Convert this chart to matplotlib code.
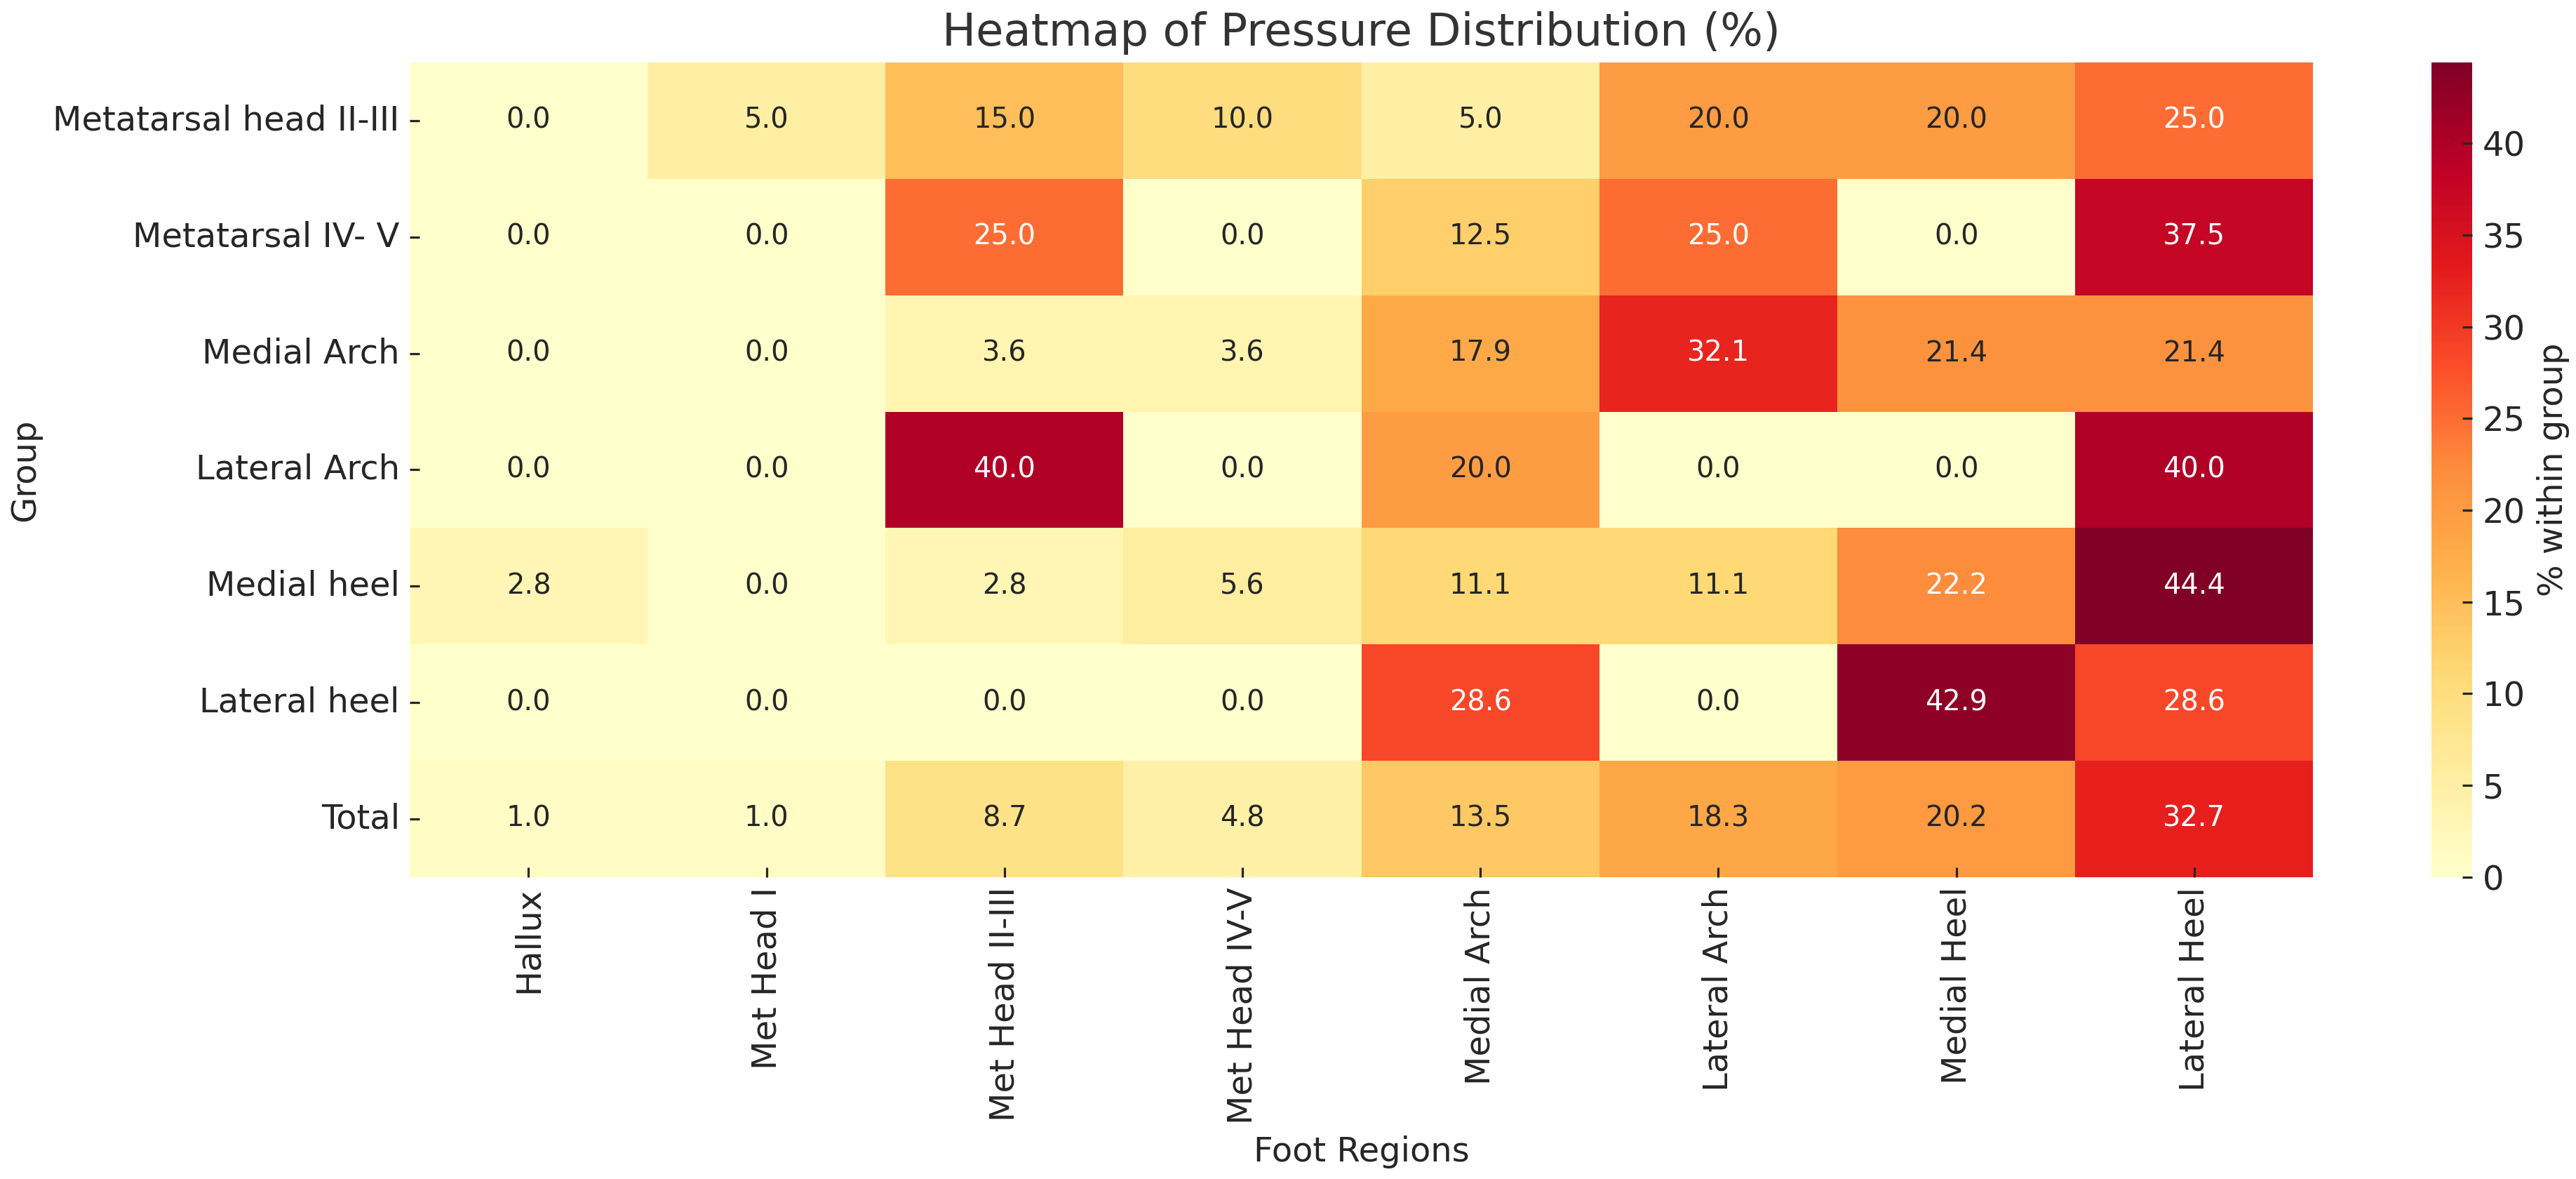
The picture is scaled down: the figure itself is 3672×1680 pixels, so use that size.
import matplotlib
matplotlib.use("Agg")
import matplotlib.pyplot as plt
import seaborn as sns
import pandas as pd
import numpy as np

groups = ["Metatarsal head II-III", "Metatarsal IV- V", "Medial Arch", "Lateral Arch",
          "Medial heel", "Lateral heel", "Total"]
regions = ["Hallux", "Met Head I", "Met Head II-III", "Met Head IV-V",
           "Medial Arch", "Lateral Arch", "Medial Heel", "Lateral Heel"]

met_head_2_3 = [0.0, 5.0, 15.0, 10.0, 5.0, 20.0, 20.0, 25.0]
metatarsal_4_5 = [0.0, 0.0, 25.0, 0.0, 12.5, 25.0, 0.0, 37.5]
medial_arch = [0.0, 0.0, 3.6, 3.6, 17.9, 32.1, 21.4, 21.4]
lateral_arch = [0.0, 0.0, 40.0, 0.0, 20.0, 0.0, 0.0, 40.0]
medial_heel = [2.8, 0.0, 2.8, 5.6, 11.1, 11.1, 22.2, 44.4]
lateral_heel = [0.0, 0.0, 0.0, 0.0, 28.6, 0.0, 42.9, 28.6]
total = [1.0, 1.0, 8.7, 4.8, 13.5, 18.3, 20.2, 32.7]

df = pd.DataFrame([met_head_2_3, metatarsal_4_5, medial_arch, lateral_arch,
                   medial_heel, lateral_heel, total], index=groups, columns=regions)

txt = "#262626"
plt.rcParams.update({
    "font.family": ["DejaVu Sans"],
    "text.color": txt,
    "axes.labelcolor": txt,
    "xtick.color": txt,
    "ytick.color": txt,
    "xtick.direction": "in",
    "ytick.direction": "in",
})

DPI = 288
fig = plt.figure(figsize=(3672 / DPI, 1680 / DPI), dpi=DPI)
ax = fig.add_axes([0.159, 0.256, 0.739, 0.691])
cax = fig.add_axes([0.944, 0.256, 0.0158, 0.691])

sns.heatmap(df, annot=True, fmt=".1f", cmap="YlOrRd", vmin=0, vmax=df.values.max(),
            ax=ax, cbar_ax=cax, annot_kws={"size": 10},
            cbar_kws={"label": "% within group"})

ax.set_title("Heatmap of Pressure Distribution (%)", fontsize=16, color="#333333", pad=6)
ax.set_xlabel("Foot Regions", fontsize=12)
ax.set_ylabel("Group", fontsize=12)
ax.tick_params(axis="both", labelsize=12, direction="in")
plt.setp(ax.get_xticklabels(), rotation=90)
plt.setp(ax.get_yticklabels(), rotation=0)

cax.tick_params(labelsize=12, direction="in")
cax.set_ylabel("% within group", fontsize=12)

fig.savefig("out.png", dpi=DPI)
